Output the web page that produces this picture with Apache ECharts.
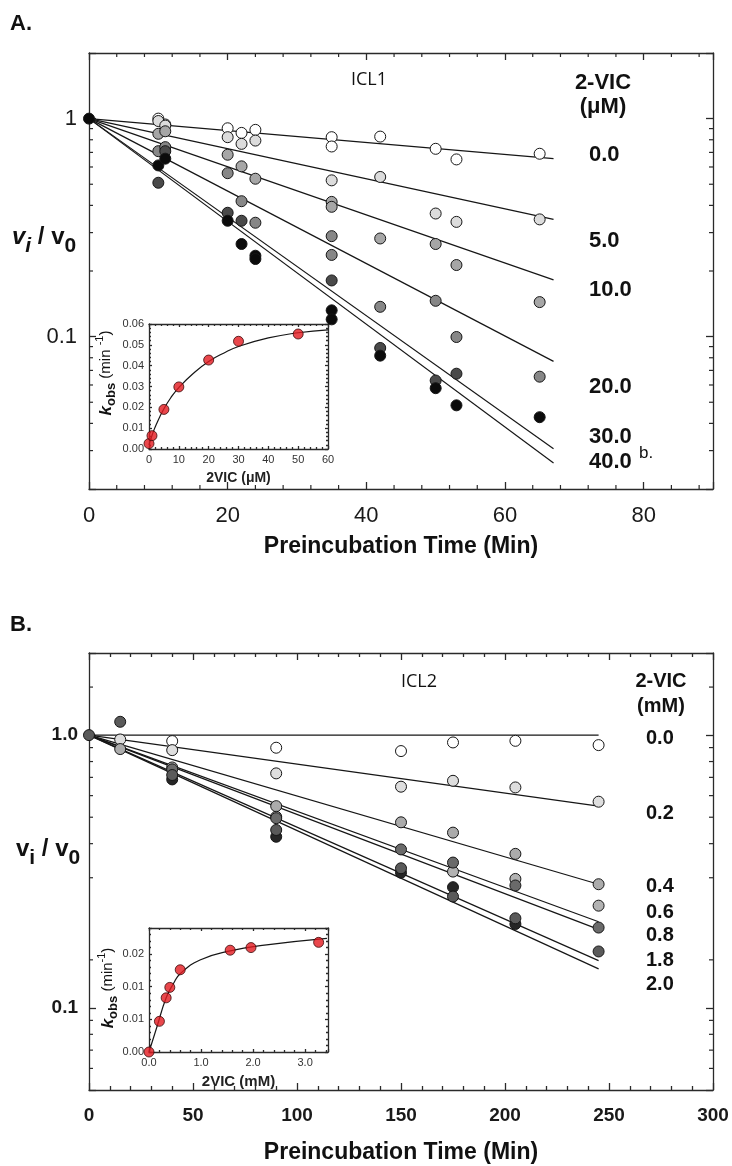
<!DOCTYPE html>
<html>
<head>
<meta charset="utf-8">
<script src="https://cdn.jsdelivr.net/npm/echarts@6/dist/echarts.min.js"></script>
<style>
  html, body { margin: 0; padding: 0; background: #fff; }
  #chart { width: 732px; height: 1166px; }
</style>
</head>
<body>
<div id="chart"></div>
<script>
// ---------- panel A (ICL1, 2-VIC in uM) ----------
const concA = ['0.0', '5.0', '10.0', '20.0', '30.0', '40.0'];
const fitTimeA = 67;
const fitEndA = [0.655, 0.345, 0.182, 0.077, 0.0306, 0.0263];
const ptsA00 = [[10, 1.0], [11, 0.94], [20, 0.903], [22, 0.86], [24, 0.888], [35, 0.822], [35, 0.745], [42, 0.827], [50, 0.727], [53, 0.65], [65, 0.69]];
const ptsA05 = [[10, 0.975], [11, 0.929], [20, 0.822], [22, 0.766], [24, 0.793], [35, 0.521], [42, 0.54], [50, 0.367], [53, 0.336], [65, 0.345]];
const ptsA10 = [[10, 0.852], [11, 0.875], [20, 0.683], [22, 0.604], [24, 0.53], [35, 0.415], [35, 0.394], [42, 0.282], [50, 0.266], [53, 0.213], [65, 0.144]];
const ptsA20 = [[10, 0.709], [11, 0.74], [20, 0.562], [22, 0.418], [24, 0.333], [35, 0.289], [35, 0.237], [42, 0.137], [50, 0.146], [53, 0.0996], [65, 0.0655]];
const ptsA30 = [[10, 0.508], [11, 0.709], [20, 0.37], [22, 0.34], [35, 0.181], [42, 0.0887], [50, 0.0629], [53, 0.0676]];
const ptsA40 = [[0, 1], [10, 0.61], [11, 0.655], [20, 0.34], [22, 0.266], [24, 0.235], [24, 0.227], [35, 0.132], [35, 0.12], [42, 0.0818], [50, 0.058], [53, 0.0484], [65, 0.0427]];
const minorLogA = [0.03, 0.04, 0.05, 0.06, 0.07, 0.08, 0.09, 0.2, 0.3, 0.4, 0.5, 0.6, 0.7, 0.8, 0.9];
const minorTimeA = [4, 8, 12, 16, 24, 28, 32, 36, 44, 48, 52, 56, 64, 68, 72, 76, 84, 88];
const yTickValsA = [0.1, 1];
const yTickTextA = ['0.1', '1'];

// inset A: kobs vs 2VIC (uM)
const insetConcA = [0, 1, 5, 10, 20, 30, 50];
const insetKobsA = [0.0026, 0.0064, 0.019, 0.0298, 0.0427, 0.0517, 0.0552];
const curveXA = [0, 1, 2.5, 5, 7.5, 10, 15, 20, 25, 30, 40, 50, 60];
const curveYA = [0.002, 0.0065, 0.012, 0.0193, 0.025, 0.0295, 0.0365, 0.042, 0.046, 0.0492, 0.0533, 0.0558, 0.0572];

// ---------- panel B (ICL2, 2-VIC in mM) ----------
const concB = ['0.0', '0.2', '0.4', '0.6', '0.8', '1.8', '2.0'];
const fitTimeB = 245;
const fitEndB = [1.0, 0.549, 0.284, 0.207, 0.194, 0.149, 0.139];
const ptsB00 = [[40, 0.951], [90, 0.899], [150, 0.874], [175, 0.94], [205, 0.953], [245, 0.919]];
const ptsB02 = [[15, 0.964], [40, 0.881], [90, 0.724], [150, 0.647], [175, 0.68], [205, 0.643], [245, 0.57]];
const ptsB04 = [[15, 0.889], [90, 0.549], [150, 0.479], [175, 0.439], [205, 0.367], [245, 0.284]];
const ptsB06 = [[40, 0.761], [90, 0.502], [175, 0.316], [205, 0.297], [245, 0.237]];
const ptsB08 = [[40, 0.749], [90, 0.496], [150, 0.381], [175, 0.341], [205, 0.281], [245, 0.197]];
const ptsB20 = [[40, 0.688], [90, 0.424], [150, 0.313], [175, 0.277], [205, 0.203]];
const ptsB18 = [[0, 1], [15, 1.119], [40, 0.714], [90, 0.449], [150, 0.325], [175, 0.256], [205, 0.213], [245, 0.161]];
const minorLogB = [0.06, 0.07, 0.08, 0.09, 0.15, 0.3, 0.4, 0.5, 0.6, 0.7, 0.8, 0.9, 1.5];
const yTickValsB = [0.1, 1];
const yTickTextB = ['0.1', '1.0'];

// inset B: kobs vs 2VIC (mM)
const insetConcB = [0, 0.2, 0.33, 0.4, 0.6, 1.56, 1.96, 3.26];
const insetKobsB = [0, 0.0047, 0.0083, 0.0099, 0.0126, 0.0156, 0.016, 0.0168];
const curveXB = [0, 0.15, 0.33, 0.47, 0.6, 0.98, 1.56, 2.26, 3.42];
const curveYB = [0, 0.0038, 0.0083, 0.0105, 0.012, 0.0141, 0.0155, 0.0164, 0.0174];
const insetTickTextB = ['0.00', '0.01', '0.01', '0.02'];

// ---------- styles ----------
const F = '"Liberation Sans", Arial, sans-serif';
const AX = { color: '#2a2a2a', width: 1.3 };
const fillA = ['#ffffff', '#dcdcdc', '#a6a6a6', '#878787', '#4a4a4a', '#0b0b0b'];
const fillB = ['#ffffff', '#dedede', '#ababab', '#b2b2b2', '#6a6a6a', '#262626', '#5a5a5a'];
const labelYA = [155, 241, 290, 387, 437, 462];
const labelYB = [738, 813, 886, 912, 935, 960, 984];

function xPair(grid, min, max, interval, split, tickLen, minorLen, label, name, nameGap, nameStyle) {
    const base = {
        gridIndex: grid, type: 'value', min: min, max: max, interval: interval,
        axisLine: { show: true, onZero: false, lineStyle: AX },
        axisTick: { show: true, inside: true, length: tickLen, lineStyle: AX },
        minorTick: { show: split > 0, splitNumber: split || 5, length: minorLen, lineStyle: AX },
        splitLine: { show: false }, minorSplitLine: { show: false }
    };
    return [
        Object.assign({}, base, { position: 'bottom', axisLabel: label, name: name, nameLocation: 'middle', nameGap: nameGap, nameTextStyle: nameStyle }),
        Object.assign({}, base, { position: 'top', axisLabel: { show: false } })
    ];
}

function yValuePair(grid, min, max, interval, label) {
    const base = {
        gridIndex: grid, type: 'value', min: min, max: max, interval: interval,
        axisLine: { show: true, onZero: false, lineStyle: AX },
        axisTick: { show: true, inside: true, length: 3, lineStyle: AX },
        minorTick: { show: true, splitNumber: 5, length: 2, lineStyle: AX },
        splitLine: { show: false }, minorSplitLine: { show: false }
    };
    return [
        Object.assign({}, base, { position: 'left', axisLabel: label }),
        Object.assign({}, base, { position: 'right', axisLabel: { show: false } })
    ];
}

function yLogPair(grid, min, max, label) {
    const base = {
        gridIndex: grid, type: 'log', logBase: 10, min: min, max: max,
        axisLine: { show: true, onZero: false, lineStyle: AX },
        axisTick: { show: true, inside: true, length: 7, lineStyle: AX },
        minorTick: { show: false }, splitLine: { show: false }, minorSplitLine: { show: false }
    };
    return [
        Object.assign({}, base, { position: 'left', axisLabel: label }),
        Object.assign({}, base, { position: 'right', axisLabel: { show: false } })
    ];
}

function logLabel(vals, texts) {
    return function (v) {
        for (let i = 0; i < vals.length; i++) {
            if (Math.abs(v - vals[i]) < vals[i] * 1e-6) return texts[i];
        }
        return '';
    };
}

// short minor ticks drawn from the frame edge inwards
// horizontal = ticks on left/right edges, else on bottom/top edges
function edgeTicks(xi, yi, lo, hi, values, horizontal) {
    const data = [];
    values.forEach(function (v) {
        if (horizontal) { data.push([lo, v, 1]); data.push([hi, v, -1]); }
        else { data.push([v, lo, -1]); data.push([v, hi, 1]); }
    });
    return {
        type: 'custom', xAxisIndex: xi, yAxisIndex: yi, silent: true, z: 1, data: data,
        renderItem: function (params, api) {
            const p = api.coord([api.value(0), api.value(1)]);
            const d = api.value(2) * 4;
            return {
                type: 'line',
                shape: horizontal
                    ? { x1: p[0], y1: p[1], x2: p[0] + d, y2: p[1] }
                    : { x1: p[0], y1: p[1], x2: p[0], y2: p[1] + d },
                style: { stroke: '#2a2a2a', lineWidth: 1.2 }
            };
        }
    };
}

function fitLines(xi, yi, tEnd, ends) {
    return ends.map(function (e) {
        return {
            type: 'line', xAxisIndex: xi, yAxisIndex: yi, symbol: 'none', silent: true, z: 2,
            data: [[0, 1], [tEnd, e]],
            lineStyle: { color: '#161616', width: 1.2 }
        };
    });
}

function dots(xi, yi, sets, fills) {
    return sets.map(function (d, i) {
        return {
            type: 'scatter', xAxisIndex: xi, yAxisIndex: yi, symbolSize: 11, clip: false, z: 3,
            data: d,
            itemStyle: { color: fills[i], borderColor: '#161616', borderWidth: 1, opacity: 1 }
        };
    });
}

function zip(a, b) { return a.map(function (v, i) { return [v, b[i]]; }); }

const mainNameStyle = { fontFamily: F, fontSize: 23, fontWeight: 'bold', color: '#111' };
const insetLabel = { fontFamily: F, fontSize: 11, color: '#333', margin: 5 };

const xAxes = [].concat(
    xPair(0, 0, 90, 20, 0, 7, 4,
        { fontFamily: F, fontSize: 22, color: '#1a1a1a', margin: 16, formatter: function (v) { return v % 20 === 0 ? String(v) : ''; } },
        'Preincubation Time (Min)', 46, mainNameStyle),
    xPair(1, 0, 60, 10, 5, 3, 2, insetLabel,
        '2VIC (μM)', 22, { fontFamily: F, fontSize: 14, fontWeight: 'bold', color: '#222' }),
    xPair(2, 0, 300, 50, 5, 7, 4,
        { fontFamily: F, fontSize: 19, fontWeight: 'bold', color: '#1a1a1a', margin: 16 },
        'Preincubation Time (Min)', 51, mainNameStyle),
    xPair(3, 0, 3.44, 1, 5, 3, 2,
        Object.assign({}, insetLabel, { formatter: function (v) { return Math.abs(v - Math.round(v)) < 1e-6 ? v.toFixed(1) : ''; } }),
        '2VIC (mM)', 22, { fontFamily: F, fontSize: 15, fontWeight: 'bold', color: '#222' })
);

const yAxes = [].concat(
    yLogPair(0, 0.02, 2, { fontFamily: F, fontSize: 22, color: '#1a1a1a', margin: 12, formatter: logLabel(yTickValsA, yTickTextA) }),
    yValuePair(1, 0, 0.06, 0.01, Object.assign({}, insetLabel, { formatter: function (v) { return v.toFixed(2); } })),
    yLogPair(2, 0.05, 2, { fontFamily: F, fontSize: 19, fontWeight: 'bold', color: '#1a1a1a', margin: 11, formatter: logLabel(yTickValsB, yTickTextB) }),
    yValuePair(3, 0, 0.019, 0.005, Object.assign({}, insetLabel, {
        formatter: function (v) {
            const k = v / 0.005;
            if (Math.abs(k - Math.round(k)) > 1e-6) return '';
            return insetTickTextB[Math.round(k)] || '';
        }
    }))
);

const series = [].concat(
    edgeTicks(0, 0, 0, 90, minorLogA, true),
    edgeTicks(0, 0, 0.02, 2, minorTimeA, false),
    fitLines(0, 0, fitTimeA, fitEndA),
    dots(0, 0, [ptsA00, ptsA05, ptsA10, ptsA20, ptsA30, ptsA40], fillA),
    [{
        type: 'line', xAxisIndex: 2, yAxisIndex: 2, symbol: 'none', smooth: true, silent: true, z: 4,
        data: zip(curveXA, curveYA), lineStyle: { color: '#161616', width: 1.2 }
    }, {
        type: 'scatter', xAxisIndex: 2, yAxisIndex: 2, symbolSize: 10, clip: false, z: 5,
        data: zip(insetConcA, insetKobsA),
        itemStyle: { color: '#e3191f', borderColor: '#3a0a0a', borderWidth: 1 }
    }],
    edgeTicks(4, 4, 0, 300, minorLogB, true),
    fitLines(4, 4, fitTimeB, fitEndB),
    dots(4, 4, [ptsB00, ptsB02, ptsB04, ptsB06, ptsB08, ptsB20, ptsB18], fillB),
    [{
        type: 'line', xAxisIndex: 6, yAxisIndex: 6, symbol: 'none', smooth: true, silent: true, z: 4,
        data: zip(curveXB, curveYB), lineStyle: { color: '#161616', width: 1.2 }
    }, {
        type: 'scatter', xAxisIndex: 6, yAxisIndex: 6, symbolSize: 10, clip: false, z: 5,
        data: zip(insetConcB, insetKobsB),
        itemStyle: { color: '#e3191f', borderColor: '#3a0a0a', borderWidth: 1 }
    }]
);

// free text: panel letters, enzyme names, legends, y titles
function txt(x, y, text, size, weight, align, family) {
    return {
        type: 'text', x: x, y: y, z: 10, silent: true,
        style: {
            text: text, fontFamily: family || F, fontSize: size, fontWeight: weight || 'normal',
            fill: '#111', align: align || 'left', verticalAlign: 'middle'
        }
    };
}

function vTitle(x, y, italic) {
    const st = italic ? 'italic' : 'normal';
    return {
        type: 'text', x: x, y: y, z: 10, silent: true,
        style: {
            text: '{v|v}{s|i}{m| / v}{s2|0}', align: 'left', verticalAlign: 'middle',
            rich: {
                v: { fontFamily: F, fontSize: 24, fontWeight: 'bold', fontStyle: st, fill: '#111', lineHeight: 40, verticalAlign: 'middle' },
                s: { fontFamily: F, fontSize: 21, fontWeight: 'bold', fontStyle: st, fill: '#111', lineHeight: 21, verticalAlign: 'bottom' },
                m: { fontFamily: F, fontSize: 24, fontWeight: 'bold', fill: '#111', lineHeight: 40, verticalAlign: 'middle' },
                s2: { fontFamily: F, fontSize: 21, fontWeight: 'bold', fill: '#111', lineHeight: 21, verticalAlign: 'bottom' }
            }
        }
    };
}

function kTitle(x, y, sup) {
    return {
        type: 'text', x: x, y: y, z: 10, silent: true, rotation: Math.PI / 2,
        style: {
            text: '{k|k}{o|obs}{m| (min' + sup + '}{p|-1}{m|)}', align: 'center', verticalAlign: 'middle',
            rich: {
                k: { fontFamily: F, fontSize: 17, fontWeight: 'bold', fontStyle: 'italic', fill: '#111', lineHeight: 24, verticalAlign: 'middle' },
                o: { fontFamily: F, fontSize: 13, fontWeight: 'bold', fill: '#111', lineHeight: 13, verticalAlign: 'bottom' },
                m: { fontFamily: F, fontSize: 15, fill: '#111', lineHeight: 24, verticalAlign: 'middle' },
                p: { fontFamily: F, fontSize: 11, fill: '#111', lineHeight: 11, verticalAlign: 'top' }
            }
        }
    };
}

const graphics = [
    txt(10, 24, 'A.', 22, 'bold'),
    txt(10, 625, 'B.', 22, 'bold'),
    txt(369, 80, 'ICL1', 18, 'normal', 'center', '"Open Sans", sans-serif'),
    txt(419, 682, 'ICL2', 18, 'normal', 'center', '"Open Sans", sans-serif'),
    txt(603, 83, '2-VIC', 22, 'bold', 'center'),
    txt(603, 107, '(μM)', 22, 'bold', 'center'),
    txt(661, 681, '2-VIC', 20, 'bold', 'center'),
    txt(661, 706, '(mM)', 20, 'bold', 'center'),
    txt(639, 453, 'b.', 17, 'normal'),
    vTitle(12, 237, true),
    vTitle(16, 849, false),
    kTitle(106, 373, ' '),
    kTitle(108, 988, '')
];
concA.forEach(function (c, i) { graphics.push(txt(589, labelYA[i], c, 22, 'bold')); });
concB.forEach(function (c, i) { graphics.push(txt(646, labelYB[i], c, 20, 'bold')); });

const chart = echarts.init(document.getElementById('chart'));
chart.setOption({
    animation: false,
    backgroundColor: '#ffffff',
    grid: [
        { left: 89, top: 53, width: 624, height: 436, containLabel: false, outerBoundsMode: 'none' },
        { left: 149, top: 324, width: 179, height: 125, containLabel: false, outerBoundsMode: 'none' },
        { left: 89, top: 653, width: 624, height: 437, containLabel: false, outerBoundsMode: 'none' },
        { left: 149, top: 928, width: 179, height: 124, containLabel: false, outerBoundsMode: 'none' }
    ],
    xAxis: xAxes,
    yAxis: yAxes,
    series: series,
    graphic: graphics
});
</script>
</body>
</html>
